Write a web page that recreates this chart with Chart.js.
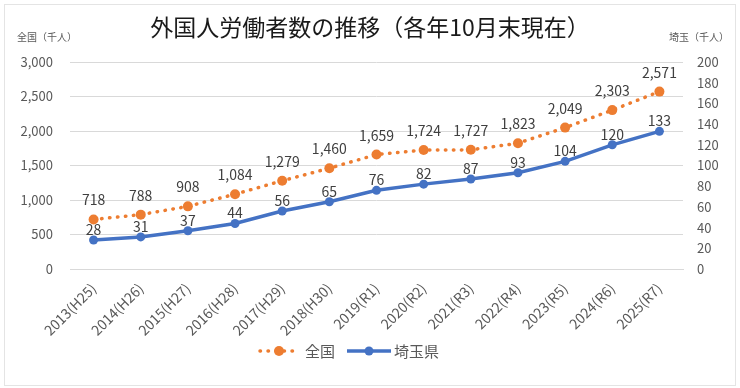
<!DOCTYPE html>
<html lang="ja">
<head>
<meta charset="utf-8">
<script src="https://cdn.jsdelivr.net/npm/chart.js@4.4.1/dist/chart.umd.min.js"></script>
<style>
  html, body { margin: 0; padding: 0; background: #fff; }
  #wrap { width: 740px; height: 388px; position: relative; }
</style>
</head>
<body>
<div id="wrap"><canvas id="chart"></canvas></div>
<script>
// --- data ---
const years = ['2013(H25)', '2014(H26)', '2015(H27)', '2016(H28)', '2017(H29)', '2018(H30)',
  '2019(R1)', '2020(R2)', '2021(R3)', '2022(R4)', '2023(R5)', '2024(R6)', '2025(R7)'];
const national = [718, 788, 908, 1084, 1279, 1460, 1659, 1724, 1727, 1823, 2049, 2303, 2571];
const saitama = [28, 31, 37, 44, 56, 65, 76, 82, 87, 93, 104, 120, 133];
const leftTicks = [0, 500, 1000, 1500, 2000, 2500, 3000];
const rightTicks = [0, 20, 40, 60, 80, 100, 120, 140, 160, 180, 200];

const ORANGE = '#ED7D31';
const BLUE = '#4472C4';
const TEXT = '#595959';
const FONT = '"Noto Sans CJK JP", "Noto Sans", sans-serif';

// value labels above each point (gap differs per series, as in the original)
const labelGap = [14, 5];
const valueLabels = {
  id: 'valueLabels',
  afterDatasetsDraw(chart) {
    const ctx = chart.ctx;
    ctx.save();
    ctx.font = '14px ' + FONT;
    ctx.fillStyle = '#404040';
    ctx.textAlign = 'center';
    ctx.textBaseline = 'alphabetic';
    chart.data.datasets.forEach((ds, i) => {
      const meta = chart.getDatasetMeta(i);
      meta.data.forEach((pt, j) => {
        ctx.fillText(ds.data[j].toLocaleString('en-US'), pt.x, pt.y - labelGap[i]);
      });
    });
    ctx.restore();
  }
};

// title, axis captions, legend, frame
const decorations = {
  id: 'decorations',
  afterDraw(chart) {
    const ctx = chart.ctx;
    ctx.save();
    ctx.strokeStyle = '#e4e4e4';
    ctx.lineWidth = 1;
    ctx.strokeRect(4.5, 4.5, 731, 381);

    ctx.fillStyle = '#1a1a1a';
    ctx.font = '23px ' + FONT;
    ctx.textAlign = 'center';
    ctx.textBaseline = 'middle';
    ctx.fillText('外国人労働者数の推移（各年10月末現在）', 370, 27);

    ctx.fillStyle = TEXT;
    ctx.font = '10px ' + FONT;
    ctx.textAlign = 'left';
    ctx.fillText('全国（千人）', 17, 37);
    ctx.textAlign = 'right';
    ctx.fillText('埼玉（千人）', 729, 37);

    // legend
    const ly = 351;
    ctx.lineCap = 'round';
    ctx.strokeStyle = ORANGE;
    ctx.lineWidth = 3.5;
    ctx.setLineDash([0.5, 7.5]);
    ctx.beginPath(); ctx.moveTo(260, ly); ctx.lineTo(297, ly); ctx.stroke();
    ctx.setLineDash([]);
    ctx.fillStyle = ORANGE;
    ctx.beginPath(); ctx.arc(279, ly, 5, 0, Math.PI * 2); ctx.fill();

    ctx.strokeStyle = BLUE;
    ctx.lineWidth = 3.5;
    ctx.lineCap = 'butt';
    ctx.beginPath(); ctx.moveTo(347, ly); ctx.lineTo(391, ly); ctx.stroke();
    ctx.fillStyle = BLUE;
    ctx.beginPath(); ctx.arc(369, ly, 4.5, 0, Math.PI * 2); ctx.fill();

    ctx.fillStyle = TEXT;
    ctx.font = '15px ' + FONT;
    ctx.textAlign = 'left';
    ctx.fillText('全国', 305, ly);
    ctx.fillText('埼玉県', 394, ly);
    ctx.restore();
  }
};

new Chart(document.getElementById('chart'), {
  type: 'line',
  data: {
    labels: years,
    datasets: [{
      label: '全国',
      data: national,
      yAxisID: 'y',
      borderColor: ORANGE,
      backgroundColor: ORANGE,
      borderWidth: 3.5,
      borderDash: [0.5, 7.5],
      borderCapStyle: 'round',
      pointRadius: 5,
      pointBorderWidth: 0,
      pointBackgroundColor: ORANGE,
      tension: 0
    }, {
      label: '埼玉県',
      data: saitama,
      yAxisID: 'y1',
      borderColor: BLUE,
      backgroundColor: BLUE,
      borderWidth: 3.5,
      pointRadius: 4.5,
      pointBorderWidth: 0,
      pointBackgroundColor: BLUE,
      tension: 0
    }]
  },
  options: {
    responsive: true,
    maintainAspectRatio: false,
    animation: false,
    devicePixelRatio: 1,
    layout: { padding: { top: 62, left: 0, right: 0, bottom: 0 } },
    plugins: {
      legend: { display: false },
      tooltip: { enabled: false }
    },
    scales: {
      x: {
        offset: true,
        grid: { display: false, drawTicks: false },
        border: { display: true, color: '#d9d9d9' },
        ticks: {
          color: TEXT, font: { family: FONT, size: 14 },
          minRotation: 45, maxRotation: 45, padding: 11, autoSkip: false
        },
        afterFit(scale) { scale.height = 119; }
      },
      y: {
        position: 'left',
        min: 0, max: 3000,
        afterBuildTicks(scale) { scale.ticks = leftTicks.map(v => ({ value: v })); },
        grid: { color: '#d9d9d9', drawTicks: false },
        border: { display: false },
        ticks: {
          color: TEXT, font: { family: FONT, size: 13 }, padding: 17,
          callback: v => v.toLocaleString('en-US')
        },
        afterFit(scale) { scale.width = 70; }
      },
      y1: {
        position: 'right',
        min: 0, max: 200,
        afterBuildTicks(scale) { scale.ticks = rightTicks.map(v => ({ value: v })); },
        grid: { display: false, drawTicks: false },
        border: { display: false },
        ticks: { color: TEXT, font: { family: FONT, size: 13 }, padding: 14 },
        afterFit(scale) { scale.width = 57; }
      }
    }
  },
  plugins: [valueLabels, decorations]
});
</script>
</body>
</html>
